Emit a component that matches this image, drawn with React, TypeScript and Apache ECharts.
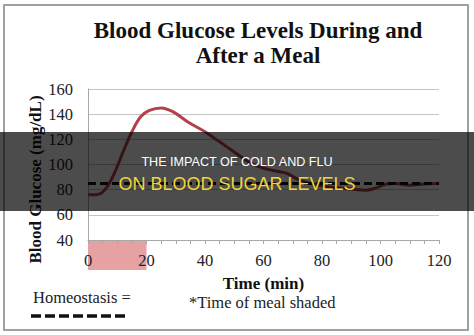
import React, { useEffect, useRef } from "react";
import * as echarts from "echarts";

// Time after start of meal (min)
const times = [0, 3, 5, 7, 9, 12, 15, 18, 21, 25, 29, 34, 40, 45, 50, 55, 60, 65, 68, 72, 76, 80, 85, 90, 95, 98, 102, 105, 110, 115, 120];
// Blood glucose (mg/dL)
const glucose = [76, 76, 78, 84, 93, 110, 126, 138, 143, 145, 142, 134, 126, 118, 110, 102, 97, 94.5, 93, 88, 85, 83, 81.5, 80.5, 79.5, 81, 84.5, 85, 83.5, 84.5, 85];
// Homeostasis level
const homeostasisLevel = 85;
const homeostasisRange = [0, 120];
// Meal window (min)
const mealWindow = [0, 20];

const titleLines = ["Blood Glucose Levels During and", "After a Meal"];
const yAxisTitle = "Blood Glucose (mg/dL)";
const xAxisTitle = "Time (min)";
const legendText = "Homeostasis =";
const noteText = "*Time of meal shaded";
const bannerLine1 = "THE IMPACT OF COLD AND FLU";
const bannerLine2 = "ON BLOOD SUGAR LEVELS";

const SERIF = "'Liberation Serif', 'Times New Roman', serif";
const SANS = "'Liberation Sans', Arial, sans-serif";

export default function App() {
  const ref = useRef<HTMLDivElement>(null);

  useEffect(() => {
    if (!ref.current) return;
    const chart = echarts.init(ref.current, undefined, { renderer: "svg" });
    chart.setOption({
      animation: false,
      backgroundColor: "#ffffff",
      grid: { left: 88, right: 35, top: 89, bottom: 95 },
      xAxis: {
        type: "value",
        min: 0,
        max: 120,
        interval: 20,
        name: xAxisTitle,
        nameLocation: "middle",
        nameGap: 35,
        nameTextStyle: { fontFamily: SERIF, fontWeight: "bold", fontSize: 17, color: "#111" },
        axisLine: { show: true, lineStyle: { color: "#a8a8a8", width: 1 } },
        axisTick: { show: true, length: 4, lineStyle: { color: "#a8a8a8" } },
        minorTick: { show: true, splitNumber: 4, length: 4, lineStyle: { color: "#a8a8a8" } },
        splitLine: { show: false },
        axisLabel: { margin: 12, fontFamily: SERIF, fontSize: 16.5, color: "#222" },
      },
      yAxis: {
        type: "value",
        min: 40,
        max: 160,
        interval: 20,
        axisLine: { show: true, lineStyle: { color: "#a8a8a8", width: 1 } },
        axisTick: { show: false },
        splitLine: { show: true, lineStyle: { color: "#c4c4c4", width: 1 } },
        axisLabel: { margin: 15, fontFamily: SERIF, fontSize: 16.5, color: "#222" },
      },
      series: [
        {
          type: "line",
          name: "Glucose",
          data: times.map((t, i) => [t, glucose[i]]),
          smooth: 0.35,
          showSymbol: false,
          symbol: "none",
          lineStyle: { color: "#b5404b", width: 3 },
          z: 2,
        },
        {
          type: "line",
          name: "Homeostasis",
          data: homeostasisRange.map((t) => [t, homeostasisLevel]),
          showSymbol: false,
          symbol: "none",
          lineStyle: { color: "#111111", width: 3, type: [8, 4] },
          z: 3,
        },
      ],
    });

    const [mx0, yBottom] = chart.convertToPixel({ gridIndex: 0 }, [mealWindow[0], 40]) as number[];
    const [mx1] = chart.convertToPixel({ gridIndex: 0 }, [mealWindow[1], 40]) as number[];
    const [, yTop] = chart.convertToPixel({ gridIndex: 0 }, [0, 160]) as number[];

    chart.setOption({
      graphic: [
        {
          type: "rect",
          z: -1,
          shape: { x: 4, y: 5, width: 464, height: 325 },
          style: { fill: "none", stroke: "#a0a0a0", lineWidth: 2 },
        },
        {
          type: "rect",
          z: -1,
          shape: { x: mx0, y: yBottom, width: mx1 - mx0, height: 30 },
          style: { fill: "#e6a1a3" },
        },
        {
          type: "text",
          x: 258,
          y: 17.5,
          z: 5,
          style: {
            text: titleLines.join("\n"),
            fontFamily: SERIF,
            fontWeight: "bold",
            fontSize: 23,
            lineHeight: 25,
            fill: "#111",
            align: "center",
            textAlign: "center",
            verticalAlign: "top",
            textVerticalAlign: "top",
          },
        },
        {
          type: "text",
          x: 35,
          y: (yTop + yBottom) / 2 + 15,
          rotation: Math.PI / 2,
          z: 5,
          style: {
            text: yAxisTitle,
            fontFamily: SERIF,
            fontWeight: "bold",
            fontSize: 17,
            fill: "#111",
            align: "center",
            textAlign: "center",
            verticalAlign: "middle",
            textVerticalAlign: "middle",
          },
        },
        {
          type: "text",
          x: 33,
          y: 297,
          z: 5,
          style: {
            text: legendText,
            fontFamily: SERIF,
            fontSize: 16.5,
            fill: "#222",
            align: "left",
            textAlign: "left",
            verticalAlign: "middle",
            textVerticalAlign: "middle",
          },
        },
        {
          type: "line",
          z: 5,
          shape: { x1: 31, y1: 316, x2: 126, y2: 316 },
          style: { stroke: "#111", lineWidth: 3.5, lineDash: [10, 4] },
        },
        {
          type: "text",
          x: 189,
          y: 302,
          z: 5,
          style: {
            text: noteText,
            fontFamily: SERIF,
            fontSize: 16.5,
            fill: "#222",
            align: "left",
            textAlign: "left",
            verticalAlign: "middle",
            textVerticalAlign: "middle",
          },
        },
        {
          type: "rect",
          z: 100,
          shape: { x: 0, y: 132, width: 474, height: 79 },
          style: { fill: "rgba(0,0,0,0.7)" },
        },
        {
          type: "text",
          x: 237,
          y: 162,
          z: 101,
          style: {
            text: bannerLine1,
            fontFamily: SANS,
            fontSize: 12.6,
            fill: "#ffffff",
            align: "center",
            textAlign: "center",
            verticalAlign: "middle",
            textVerticalAlign: "middle",
          },
        },
        {
          type: "text",
          x: 237,
          y: 184,
          z: 101,
          style: {
            text: bannerLine2,
            fontFamily: SANS,
            fontSize: 18,
            fill: "#f0d43a",
            align: "center",
            textAlign: "center",
            verticalAlign: "middle",
            textVerticalAlign: "middle",
          },
        },
      ],
    });

    return () => chart.dispose();
  }, []);

  return (
    <div
      ref={ref}
      style={{ position: "absolute", left: 0, top: 0, width: 474, height: 335 }}
    />
  );
}
